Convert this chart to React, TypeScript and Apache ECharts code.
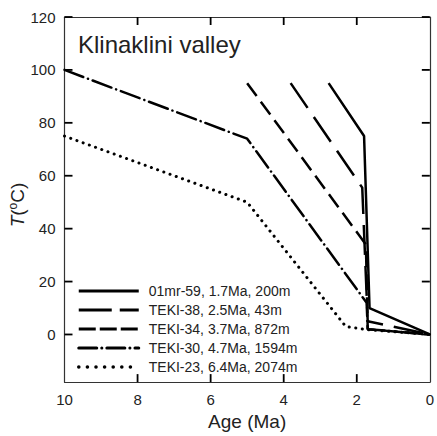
import React, { useEffect, useRef } from "react";
import * as echarts from "echarts";

const seriesNames = [
  "01mr-59, 1.7Ma, 200m",
  "TEKI-38, 2.5Ma, 43m",
  "TEKI-34, 3.7Ma, 872m",
  "TEKI-30, 4.7Ma, 1594m",
  "TEKI-23, 6.4Ma, 2074m",
];

const s01mr59: [number, number][] = [[2.77, 95], [1.8, 75], [1.65, 10], [0, 0]];
const teki38: [number, number][] = [[3.81, 95], [1.85, 55.5], [1.7, 5], [0, 0]];
const teki34: [number, number][] = [[5.0, 95], [1.75, 34], [1.7, 2], [0, 0]];
const teki30: [number, number][] = [[10, 100], [5, 74], [1.73, 12], [1.7, 2], [0, 0]];
const teki23: [number, number][] = [[10, 75], [5, 50], [2.3, 3], [1.7, 1.8], [0, 0]];

const xTicks = [2, 4, 6, 8];
const yTicks = [0, 20, 40, 60, 80, 100, 120];
const Y_MIN = -18;
const Y_MAX = 120;
const X_MIN = 0;
const X_MAX = 10;

const FONT = "'Liberation Sans', Arial, Helvetica, sans-serif";
const INK = "#222";

export default function App() {
  const ref = useRef<HTMLDivElement>(null);
  useEffect(() => {
    if (!ref.current) return;
    document.body.style.margin = "0";
    const chart = echarts.init(ref.current, undefined, { renderer: "svg" });
    const dashes: any[] = [
      "solid",
      [30, 11],
      [16, 7],
      [20, 5, 0.1, 5],
      [0.1, 6.5],
    ];
    const datas = [s01mr59, teki38, teki34, teki30, teki23];
    const series: any[] = datas.map((d, i) => ({
      name: seriesNames[i],
      type: "line",
      data: d,
      symbol: "none",
      showSymbol: false,
      xAxisIndex: 0,
      yAxisIndex: 0,
      color: "#000",
      lineStyle: {
        color: "#000",
        width: i === 4 ? 3 : 2.5,
        type: dashes[i],
        cap: i >= 3 ? "round" : "butt",
      },
    }));
    const TL = 8;
    const tickLine = (x1: number, y1: number, x2: number, y2: number) => ({
      type: "line",
      shape: { x1, y1, x2, y2 },
      style: { stroke: "#000", lineWidth: 1.8, fill: null },
    });
    series.push({
      type: "custom",
      name: "xticks",
      coordinateSystem: "cartesian2d",
      xAxisIndex: 0,
      yAxisIndex: 0,
      silent: true,
      clip: false,
      z: 5,
      data: xTicks.map((v) => [v, 0]),
      renderItem: (_p: any, api: any) => {
        const v = api.value(0);
        const b = api.coord([v, Y_MIN]);
        const t = api.coord([v, Y_MAX]);
        return {
          type: "group",
          children: [tickLine(b[0], b[1], b[0], b[1] - TL), tickLine(t[0], t[1], t[0], t[1] + TL)],
        };
      },
    });
    series.push({
      type: "custom",
      name: "yticks",
      coordinateSystem: "cartesian2d",
      xAxisIndex: 0,
      yAxisIndex: 0,
      silent: true,
      clip: false,
      z: 5,
      data: yTicks.map((v) => [5, v]),
      renderItem: (_p: any, api: any) => {
        const v = api.value(1);
        const l = api.coord([X_MAX, v]);
        const r = api.coord([X_MIN, v]);
        return {
          type: "group",
          children: [tickLine(l[0], l[1], l[0] + TL, l[1]), tickLine(r[0], r[1], r[0] - TL, r[1])],
        };
      },
    });
    const legendDashes: any[] = [
      "solid",
      [33, 8],
      [17, 4],
      [18, 5, 0.1, 5],
      [0.1, 8.5],
    ];
    const axisLine = () => ({ show: true, onZero: false, lineStyle: { color: "#333", width: 1.2 } });
    chart.setOption({
      animation: false,
      textStyle: { fontFamily: FONT },
      grid: { left: 64.5, right: 3, top: 17, bottom: 50, containLabel: false },
      xAxis: [
        {
          type: "value",
          inverse: true,
          min: X_MIN,
          max: X_MAX,
          interval: 2,
          position: "bottom",
          name: "Age (Ma)",
          nameLocation: "middle",
          nameGap: 28,
          nameTextStyle: { fontSize: 19, color: INK, fontFamily: FONT },
          axisLine: axisLine(),
          axisTick: { show: false },
          axisLabel: { fontSize: 15, color: INK, margin: 10, fontFamily: FONT },
          splitLine: { show: false },
        },
        {
          type: "value",
          inverse: true,
          min: X_MIN,
          max: X_MAX,
          interval: 2,
          position: "top",
          axisLine: axisLine(),
          axisTick: { show: false },
          axisLabel: { show: false },
          splitLine: { show: false },
        },
      ],
      yAxis: [
        {
          type: "value",
          min: Y_MIN,
          max: Y_MAX,
          position: "left",
          axisLine: axisLine(),
          axisTick: { show: false },
          axisLabel: { fontSize: 15, color: INK, margin: 9, fontFamily: FONT, customValues: yTicks },
          splitLine: { show: false },
        },
        {
          type: "value",
          min: Y_MIN,
          max: Y_MAX,
          position: "right",
          axisLine: axisLine(),
          axisTick: { show: false },
          axisLabel: { show: false },
          splitLine: { show: false },
        },
      ],
      legend: {
        orient: "vertical",
        left: 77,
        top: 284,
        itemWidth: 60,
        itemHeight: 14,
        itemGap: 5,
        padding: 0,
        selectedMode: false,
        itemStyle: { opacity: 0 },
        textStyle: { fontSize: 14, color: INK, fontFamily: FONT, padding: [0, 0, 0, 5] },
        data: seriesNames.map((n, i) => ({
          name: n,
          itemStyle: { opacity: 0 },
          lineStyle: { type: legendDashes[i], width: i === 4 ? 3.5 : 3, color: "#000", cap: i >= 3 ? "round" : "butt" },
        })),
      },
      graphic: [
        {
          type: "text",
          x: 78,
          y: 44,
          style: {
            text: "Klinaklini valley",
            fontSize: 24,
            fontFamily: FONT,
            fill: INK,
            verticalAlign: "middle",
          },
        },
        {
          type: "text",
          x: 17,
          y: 205,
          rotation: Math.PI / 2,
          style: {
            text: "{i|T}{n|(}{s|o}{n|C)}",
            align: "center",
            verticalAlign: "middle",
            fill: INK,
            rich: {
              i: { fontSize: 19, fontStyle: "italic", fontFamily: FONT, fill: INK, lineHeight: 21 },
              n: { fontSize: 19, fontFamily: FONT, fill: INK, lineHeight: 21 },
              s: { fontSize: 12, fontFamily: FONT, fill: INK, lineHeight: 21, verticalAlign: "top" },
            },
          },
        },
      ],
      series,
    });
    return () => chart.dispose();
  }, []);
  return <div ref={ref} style={{ width: 437, height: 436 }} />;
}
